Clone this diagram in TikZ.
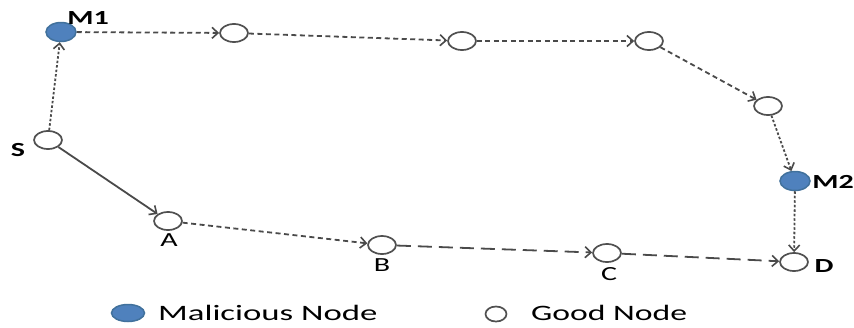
\documentclass[tikz,border=0pt]{standalone}
\usepackage{fontspec}
\setmainfont{Carlito}
\usetikzlibrary{shapes.geometric,arrows.meta}
\definecolor{edgegray}{HTML}{4A4A4A}
\definecolor{nodegray}{HTML}{505050}
\definecolor{malblue}{HTML}{4F81BD}
\definecolor{malborder}{HTML}{41719C}
\newcommand{\wide}[2][1.5]{\scalebox{#1}[1]{#2}}
\tikzset{
  goodnode/.style={ellipse,draw=nodegray,line width=1.7pt,fill=white,minimum width=28pt,minimum height=18pt,inner sep=0pt},
  malnode/.style={ellipse,draw=malborder,line width=1.5pt,fill=malblue,minimum width=30pt,minimum height=19pt,inner sep=0pt},
  lbl/.style={font=\fontsize{20}{22}\selectfont,inner sep=0pt,text=black},
  blbl/.style={lbl,font=\fontsize{20}{22}\selectfont\bfseries},
  keytext/.style={lbl,anchor=base west,font=\fontsize{22}{24}\selectfont},
  link/.style={draw=edgegray,line width=1.8pt,-{Straight Barb[length=6pt,width=11pt,line width=1.6pt]}},
  dotlink/.style={link,dash pattern=on 2.5pt off 2pt},
  shortdash/.style={link,dash pattern=on 5pt off 3.5pt},
  longdash/.style={link,dash pattern=on 14pt off 7pt},
}
\begin{document}
\begin{tikzpicture}[x=1pt,y=-1pt]
\useasboundingbox (0,0) rectangle (854,327);

% nodes of the network
\node[malnode]  (M1) at (61,32)   {};
\node[goodnode] (S)  at (48,140)  {};
\node[goodnode] (N2) at (234,33)  {};
\node[goodnode] (N3) at (462,41)  {};
\node[goodnode] (N4) at (649,41)  {};
\node[goodnode] (N5) at (768,106) {};
\node[malnode]  (M2) at (795,181) {};
\node[goodnode] (A)  at (168,221) {};
\node[goodnode] (B)  at (382,245) {};
\node[goodnode] (C)  at (607,253) {};
\node[goodnode] (D)  at (794,262) {};

% labels
\node[blbl] (lM1) at (88,18)  {\wide{M1}};
\node[blbl] (lS)  at (18,150) {\wide{S}};
\node[lbl]  (lA)  at (169,240) {\wide{A}};
\node[lbl]  (lB)  at (382,265) {\wide{B}};
\node[lbl]  (lC)  at (609,274) {\wide{C}};
\node[blbl] (lD)  at (824,266) {\wide{D}};
\node[blbl] (lM2) at (833,182) {\wide{M2}};

% route through the malicious nodes
\draw[dotlink]   (S)  -- (M1);
\draw[shortdash] (M1) -- (N2);
\draw[shortdash] (N2) -- (N3);
\draw[shortdash] (N3) -- (N4);
\draw[shortdash] (N4) -- (N5);
\draw[dotlink]   (N5) -- (M2);
\draw[dotlink]   (M2) -- (D);

% route through the good nodes
\draw[link]      (S) -- (A);
\draw[shortdash] (A) -- (B);
\draw[longdash]  (B) -- (C);
\draw[longdash]  (C) -- (D);

% legend
\node[malnode,minimum width=33pt,minimum height=17pt] (kM) at (128,313) {};
\node[keytext] (tM) at (158,320) {\wide[1.58]{Malicious Node}};
\node[goodnode,minimum width=21pt,minimum height=15pt] (kG) at (496,314) {};
\node[keytext] (tG) at (531,320) {\wide[1.53]{Good Node}};
\end{tikzpicture}
\end{document}
